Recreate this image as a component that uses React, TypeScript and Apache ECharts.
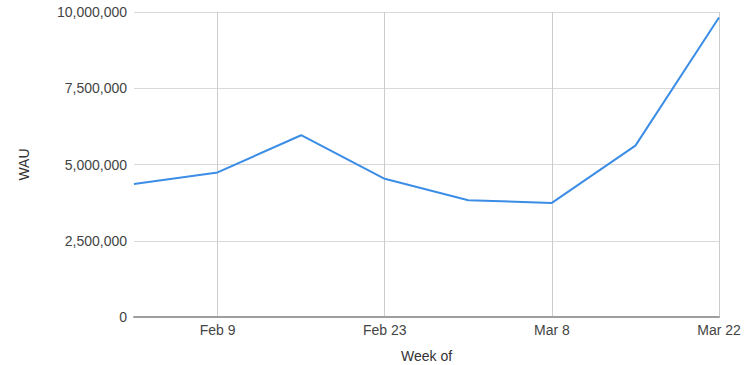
import React, { useEffect, useRef } from "react";
import * as echarts from "echarts";

const weeks = ["Feb 2", "Feb 9", "Feb 16", "Feb 23", "Mar 1", "Mar 8", "Mar 15", "Mar 22"];
const wau = [4360000, 4740000, 5960000, 4530000, 3830000, 3740000, 5620000, 9820000];
const yTicks = [0, 2500000, 5000000, 7500000, 10000000];

export default function App() {
  const ref = useRef<HTMLDivElement>(null);
  useEffect(() => {
    if (!ref.current) return;
    const chart = echarts.init(ref.current, undefined, { renderer: "svg" });
    const font = "Liberation Sans, Arial, sans-serif";
    chart.setOption({
      animation: false,
      backgroundColor: "#ffffff",
      grid: { left: 134, right: 31, top: 12, bottom: 48, containLabel: false, outerBoundsMode: "none" },
      xAxis: {
        type: "category",
        data: weeks,
        boundaryGap: false,
        name: "Week of",
        nameLocation: "middle",
        nameGap: 32,
        nameTextStyle: { color: "#333", fontSize: 14, fontFamily: font },
        axisLine: { show: true, lineStyle: { color: "#9e9e9e", width: 2 } },
        axisTick: { show: false },
        axisLabel: {
          interval: (i: number) => i % 2 === 1,
          color: "#444",
          fontSize: 14,
          fontFamily: font,
          margin: 6,
        },
        splitLine: {
          show: true,
          interval: (i: number) => i % 2 === 1,
          lineStyle: { color: "#cccccc", width: 1 },
        },
      },
      yAxis: {
        type: "value",
        min: yTicks[0],
        max: yTicks[yTicks.length - 1],
        interval: yTicks[1] - yTicks[0],
        name: "WAU",
        nameLocation: "middle",
        nameGap: 103,
        nameTextStyle: { color: "#333", fontSize: 14, fontFamily: font },
        axisLine: { show: false },
        axisTick: { show: false },
        axisLabel: {
          color: "#444",
          fontSize: 14,
          fontFamily: font,
          margin: 7,
          formatter: (v: number) => v.toLocaleString("en-US"),
        },
        splitLine: { show: true, lineStyle: { color: "#d9d9d9", width: 1 } },
      },
      series: [
        {
          type: "line",
          data: wau,
          showSymbol: false,
          lineStyle: { color: "#3b8de6", width: 2 },
          itemStyle: { color: "#3b8de6" },
        },
      ],
    });
    return () => chart.dispose();
  }, []);
  return (
    <div
      ref={ref}
      style={{ position: "fixed", left: 0, top: 0, width: 750, height: 365, background: "#fff" }}
    />
  );
}
